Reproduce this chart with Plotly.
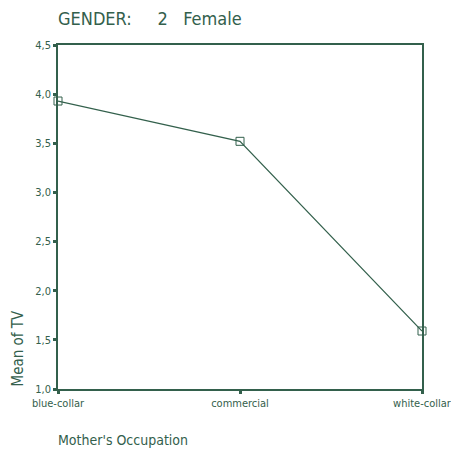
import plotly.graph_objects as go

categories = ["blue-collar", "commercial", "white-collar"]
mean_tv = [3.93, 3.52, 1.59]
y_ticks = [1.0, 1.5, 2.0, 2.5, 3.0, 3.5, 4.0, 4.5]

C = "#33604c"
FONT = "DejaVu Sans Condensed, Liberation Sans Narrow, Liberation Sans, Arial"

fig = go.Figure()
fig.add_trace(go.Scatter(
    x=list(range(len(categories))), y=mean_tv, mode="lines+markers",
    line=dict(color=C, width=1.2),
    marker=dict(symbol="square-open", size=8, color=C, line=dict(width=1)),
    showlegend=False, cliponaxis=False,
))

fig.update_layout(
    width=451, height=456,
    margin=dict(l=58, r=29, t=45, b=67, autoexpand=False),
    paper_bgcolor="white", plot_bgcolor="white",
    separators=",.",
    font=dict(family=FONT, color=C, size=11),
    xaxis=dict(
        range=[0, len(categories) - 1],
        tickvals=list(range(len(categories))), ticktext=categories,
        showgrid=False, zeroline=False, automargin=False,
        ticklabeloverflow="allow",
        showline=True, linecolor=C, linewidth=1.5, mirror=True,
        ticks="outside", ticklen=3, tickwidth=3, tickcolor=C,
        tickfont=dict(size=11, family=FONT, color=C),
    ),
    yaxis=dict(
        range=[1.0, 4.5], tickvals=y_ticks, tickformat=".1f",
        showgrid=False, zeroline=False, automargin=False,
        showline=True, linecolor=C, linewidth=1.5, mirror=True,
        ticks="outside", ticklen=3, tickwidth=3, tickcolor=C,
        tickfont=dict(size=11, family=FONT, color=C),
    ),
    annotations=[
        dict(text="GENDER:\u00a0\u00a0\u00a0\u00a0 2\u00a0\u00a0 Female", xref="paper", yref="paper",
             x=0, y=1, xshift=-2, yshift=27, xanchor="left", yanchor="middle",
             showarrow=False, font=dict(size=18, family=FONT, color=C)),
        dict(text="Mother's Occupation", xref="paper", yref="paper",
             x=0, y=0, xshift=-2, yshift=-51, xanchor="left", yanchor="middle",
             showarrow=False, font=dict(size=14, family=FONT, color=C)),
        dict(text="Mean of TV", xref="paper", yref="paper",
             x=0, y=0, xshift=-41, xanchor="center", yanchor="bottom",
             textangle=-90, showarrow=False,
             font=dict(size=15, family=FONT, color=C)),
    ],
)

fig.write_html("out.html", config={"displayModeBar": False},
               post_script="document.body.style.margin='0';document.body.style.overflow='hidden';")
